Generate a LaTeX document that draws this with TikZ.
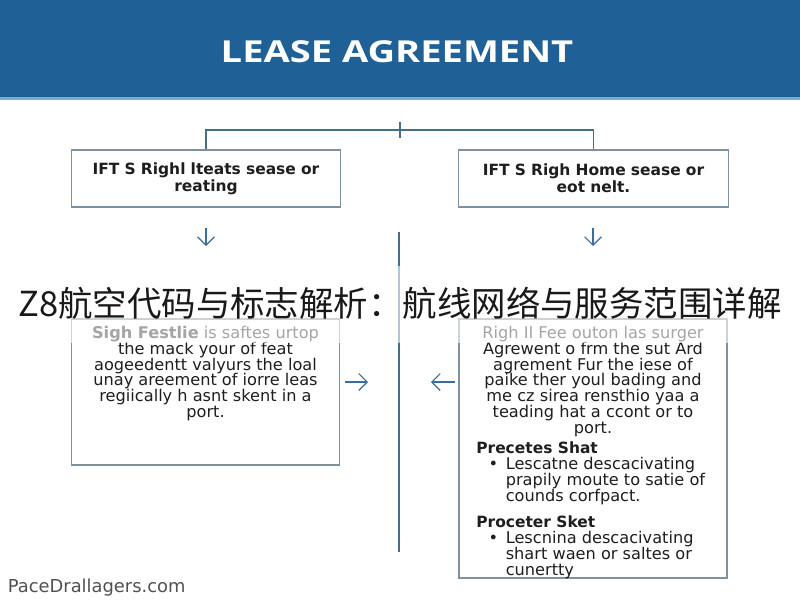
\documentclass[tikz,border=0pt]{standalone}
\usepackage{fontspec}
\setmainfont{DejaVu Sans}
\newfontfamily\titlefont{Open Sans}
\newfontfamily\cjkfont{Noto Sans CJK SC}
\usetikzlibrary{arrows.meta, positioning}
\definecolor{headercolor}{RGB}{31,96,150}
\definecolor{headerline}{RGB}{125,170,210}
\definecolor{boxcolor}{RGB}{125,145,158}
\definecolor{linkcolor}{RGB}{70,110,135}
\definecolor{arrowcolor}{RGB}{55,110,160}
\definecolor{textcolor}{RGB}{30,30,30}
\definecolor{footcolor}{RGB}{80,80,80}
\lineskiplimit=-100pt

\tikzset{
  topbox/.style={draw=boxcolor, thick, minimum width=6.7cm, minimum height=1.425cm,
    text width=6.5cm, align=center, text=textcolor, font=\fontsize{11}{12.2}\selectfont\bfseries},
  infobox/.style={draw=boxcolor, thick, minimum width=6.7cm},
  bodytext/.style={inner sep=0pt, text=textcolor, font=\fontsize{11.5}{11.2}\selectfont},
  headtext/.style={inner sep=0pt, text=textcolor, font=\fontsize{11}{11}\selectfont\bfseries},
  bulletmark/.style={bodytext, anchor=north east},
  link/.style={draw=linkcolor, thick},
  flow/.style={draw=arrowcolor, thick, -{Straight Barb[length=6pt, width=12pt]}},
}

\begin{document}
\begin{tikzpicture}[x=0.025cm, y=-0.025cm]
    \fill[white] (0,0) rectangle (800,600);
    \useasboundingbox (0,0) rectangle (800,600);

    % title band
    \fill[headercolor] (0,0) rectangle (800,97);
    \fill[headerline] (0,97) rectangle (800,100);
    \node[text=white, font=\titlefont\fontsize{21.5}{24}\selectfont\bfseries] (title) at (397,52)
      {\scalebox{1.26}[1]{LEASE AGREEMENT}};

    % top boxes
    \node[topbox] (ltop) at (206,178.5) {IFT S Righl lteats sease or\\ reating};
    \node[topbox] (rtop) at (593.5,178.5) {IFT S Righ Home sease or\\ eot nelt.};

    \coordinate (root) at (400,130);
    \coordinate (roothi) at (400,122);
    \coordinate (rootlo) at (400,138);
    \draw[link] (ltop.north) |- (root) -| (rtop.north);
    \draw[link, very thick] (roothi) -- (rootlo);

    % down arrows
    \coordinate (ldown) at (206,228);
    \coordinate (lend) at (206,246);
    \coordinate (rdown) at (593,228);
    \coordinate (rend) at (593,246);
    \draw[flow] (ldown) -- (lend);
    \draw[flow] (rdown) -- (rend);

    % middle line
    \coordinate (midtop) at (399,232);
    \coordinate (midbot) at (399,552);
    \draw[link] (midtop) -- (midbot);

    % lower boxes
    \node[infobox, minimum height=3.65cm] (lbox) at (205.5,392) {};
    \node[infobox, minimum height=6.475cm] (rbox) at (593,448.5) {};

    \node[bodytext, align=center, anchor=north] (ltext) at (205.5,326)
      {\textbf{Sigh Festlie} is saftes urtop\\ the mack your of feat\\ aogeedentt valyurs the loal\\
       unay areement of iorre leas\\ regiically h asnt skent in a\\ port.};

    \node[bodytext, align=center, anchor=north] (rtext) at (593,326)
      {Righ II Fee outon las surger\\ Agrewent o frm the sut Ard\\ agrement Fur the iese of\\
       paike ther youl bading and\\ me cz sirea rensthio yaa a\\ teading hat a ccont or to\\ port.};

    \node[headtext, anchor=north west] (rhead1) at (476,441) {Precetes Shat};
    \node[bodytext, align=left, below right=2.5pt and 21pt of rhead1.south west] (rlist1)
      {Lescatne descacivating\\ prapily moute to satie of\\ counds corfpact.};
    \node[bulletmark] (rdot1) at ([xshift=-5pt]rlist1.north west) {\vphantom{Ld}\textbullet};

    \node[headtext, anchor=north west] (rhead2) at (476,515) {Proceter Sket};
    \node[bodytext, align=left, below right=2.5pt and 21pt of rhead2.south west] (rlist2)
      {Lescnina descacivating\\ shart waen or saltes or\\ cunertty};
    \node[bulletmark] (rdot2) at ([xshift=-5pt]rlist2.north west) {\vphantom{Ld}\textbullet};

    % side arrows
    \coordinate (lout) at (345,382);
    \coordinate (lin) at (368,382);
    \coordinate (rout) at (455,382);
    \coordinate (rin) at (431,382);
    \draw[flow] (lout) -- (lin);
    \draw[flow] (rout) -- (rin);

    % banner text
    \fill[white, opacity=0.6] (0,266) rectangle (800,343);
    \node[text=black!90, font=\cjkfont\fontsize{24.5}{28}\selectfont] (banner) at (400,303)
      {Z8航空代码与标志解析：航线网络与服务范围详解};

    % footer
    \node[text=footcolor, anchor=west, font=\fontsize{12.7}{14}\selectfont] (foot) at (3,588) {PaceDrallagers.com};
\end{tikzpicture}
\end{document}
